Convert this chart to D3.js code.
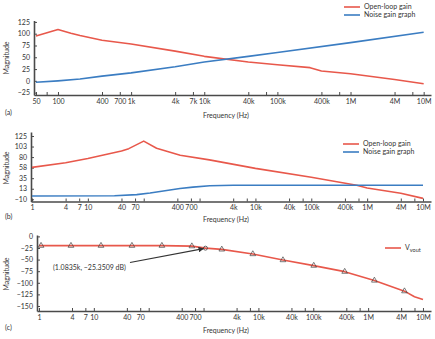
<!DOCTYPE html>
<html><head><meta charset="utf-8">
<script src="https://cdn.jsdelivr.net/npm/d3@7"></script>
<style>
html,body{margin:0;padding:0;background:#fff;}
svg{display:block;font-family:Lato,"Open Sans",sans-serif;}
</style></head><body>
<script>
// ---------- data ----------
// Panel (a)
const freqA_open = [50, 100, 150, 200, 400, 1e3, 4e3, 1e4, 4e4, 1e5, 2.8e5, 4e5, 1e6, 4e6, 1e7];
const openLoopA  = [95, 109, 101, 96, 86, 78, 63, 52, 40, 34, 28, 21, 15, 3, -6];
const freqA_noise = [50, 100, 200, 400, 1e3, 4e3, 1e4, 4e4, 1e5, 1e6, 1e7];
const noiseA      = [-3, 0, 4, 10, 17, 30, 40, 52, 60, 81, 103];
const yTicksA = [-25, 0, 25, 50, 75, 100, 125];
const xTicksA = [50, 70, 100, 400, 700, 1e3, 4e3, 7e3, 1e4, 4e4, 7e4, 1e5, 4e5, 7e5, 1e6, 4e6, 7e6, 1e7];
const xLabelsA = {50:"50",100:"100",400:"400",700:"700",1000:"1k",4000:"4k",7000:"7k",10000:"10k",40000:"40k",100000:"100k",400000:"400k",1000000:"1M",4000000:"4M",10000000:"10M"};

// Panel (b)
const freqB_open = [1, 4, 10, 40, 54, 100, 170, 450, 1500, 1e4, 1e5, 6.5e5, 1e6, 4e6, 1e7];
const openLoopB  = [58, 68, 77, 93, 98, 114, 99, 84, 74, 56, 37, 20, 14, 3, -8];
const freqB_noise = [1, 30, 75, 130, 445, 760, 1520, 4000, 1e7];
const noiseB      = [-3, -2.5, 0, 3.5, 13, 16, 19, 20, 20];
const yTicksB = [-10, 12.5, 35, 57.5, 80, 102.5, 125];
const xTicksBC = [1, 4, 7, 10, 40, 70, 100, 400, 700, 1e3, 4e3, 7e3, 1e4, 4e4, 7e4, 1e5, 4e5, 7e5, 1e6, 4e6, 7e6, 1e7];
const xLabelsBC = {1:"1",4:"4",7:"7",10:"10",40:"40",70:"70",400:"400",700:"700",4000:"4k",10000:"10k",40000:"40k",100000:"100k",400000:"400k",1000000:"1M",4000000:"4M",10000000:"10M"};

// Panel (c)
const freqC = [1, 1.09, 3.83, 13.5, 49.5, 174, 612, 1083.5, 2150, 7900, 28000, 102000, 374000, 1.3e6, 4.6e6, 7e6, 1e7];
const vout  = [-20, -20, -20, -20, -20, -20, -21, -25.35, -28, -38, -51, -63, -76, -95, -118, -130, -136];
const markerFreqC = [1.09, 3.83, 13.5, 49.5, 174, 612, 2150, 7900, 28000, 102000, 374000, 1.3e6, 4.6e6];
const markerValC  = [-20, -20, -20, -20, -20, -21, -28, -38, -51, -63, -76, -95, -118];
const tipFreq = 1083.5, tipVal = -25.3509;
const yTicksC = [-150, -125, -100, -75, -50, -25, 0];

const RED = "#e8584b", BLUE = "#3b7dc2", AX = "#4a4a4a", TXT = "#333";

const W = 435, H = 339;
const svg = d3.select("body").append("svg").attr("width", W).attr("height", H);

function panel(o) {
  const x = d3.scaleLog().domain(o.xDomain).range(o.xRange);
  const y = d3.scaleLinear().domain(o.yDomain).range(o.yRange);
  const g = svg.append("g");

  const xa = g.append("g").attr("transform", `translate(0,${o.yRange[0]})`)
    .call(d3.axisBottom(x).tickValues(o.xTicks).tickSizeInner(-3).tickSizeOuter(0).tickPadding(4)
      .tickFormat(d => o.xLabels[d] || ""));
  const ya = g.append("g").attr("transform", `translate(${o.xRange[0]},0)`)
    .call(d3.axisLeft(y).tickValues(o.yTicks).tickSizeInner(-3).tickSizeOuter(0).tickPadding(4)
      .tickFormat(d => d3.format(".0f")(d).replace("-", "\u2212")));
  [xa, ya].forEach(a => {
    a.select(".domain").attr("stroke", AX).attr("stroke-width", 1.6);
    a.selectAll(".tick line").attr("stroke", AX).attr("stroke-width", 1);
    a.selectAll("text").attr("fill", TXT).style("font-size", "7px").style("font-family", "Lato, 'Open Sans', sans-serif");
  });

  o.series.forEach(s => {
    const line = d3.line().x((d, i) => x(s.f[i])).y(d => y(d));
    g.append("path").datum(s.v).attr("d", line).attr("fill", "none")
      .attr("stroke", s.color).attr("stroke-width", 1.6).attr("stroke-linejoin", "round");
  });

  g.append("text").attr("x", 226).attr("y", o.xTitleY).attr("text-anchor", "middle")
    .attr("fill", TXT).style("font-size", "7px").text("Frequency (Hz)");
  g.append("text").attr("x", 5).attr("y", o.xTitleY - 3).attr("fill", TXT)
    .style("font-size", "7px").text(o.tag);
  g.append("text").attr("transform", `translate(9,${o.yTitleY}) rotate(-90)`).attr("text-anchor", "middle")
    .attr("fill", TXT).style("font-size", "7px").text("Magnitude");
  return {x, y, g};
}

function legend(items, x0, y0, dy) {
  items.forEach((it, i) => {
    const yy = y0 + i * dy;
    svg.append("line").attr("x1", x0).attr("x2", x0 + 16).attr("y1", yy).attr("y2", yy)
      .attr("stroke", it.color).attr("stroke-width", 1.6);
    const t = svg.append("text").attr("x", x0 + 20).attr("y", yy).attr("dy", "0.33em")
      .attr("fill", TXT).style("font-size", "7px");
    if (it.sub) {
      t.append("tspan").text(it.label);
      t.append("tspan").attr("dy", "2").style("font-size", "5.5px").text(it.sub);
    } else t.text(it.label);
  });
}

panel({
  xDomain: [47, 12.6e6], xRange: [34, 431],
  yDomain: [-30, 128], yRange: [95, 20.5],
  xTicks: xTicksA, xLabels: xLabelsA, yTicks: yTicksA,
  series: [{f: freqA_open, v: openLoopA, color: RED}, {f: freqA_noise, v: noiseA, color: BLUE}],
  xTitleY: 118, tag: "(a)", yTitleY: 58
});
legend([{label: "Open-loop gain", color: RED}, {label: "Noise gain graph", color: BLUE}], 344, 7, 8);

panel({
  xDomain: [0.96, 13.9e6], xRange: [31, 431],
  yDomain: [-14.7, 133.5], yRange: [201.5, 132],
  xTicks: xTicksBC, xLabels: xLabelsBC, yTicks: yTicksB,
  series: [{f: freqB_open, v: openLoopB, color: RED}, {f: freqB_noise, v: noiseB, color: BLUE}],
  xTitleY: 222, tag: "(b)", yTitleY: 168
});
legend([{label: "Open-loop gain", color: RED}, {label: "Noise gain graph", color: BLUE}], 343, 144, 8);

const pc = panel({
  xDomain: [0.92, 14e6], xRange: [37, 431],
  yDomain: [-160.8, 3], yRange: [311, 235],
  xTicks: xTicksBC, xLabels: xLabelsBC, yTicks: yTicksC,
  series: [{f: freqC, v: vout, color: RED}],
  xTitleY: 333, tag: "(c)", yTitleY: 274
});
legend([{label: "V", sub: "vout", color: RED}], 385, 248, 8);

const tri = d3.symbol().type(d3.symbolTriangle).size(14);
pc.g.selectAll(".mk").data(markerValC).enter().append("path")
  .attr("transform", (d, i) => `translate(${pc.x(markerFreqC[i])},${pc.y(d)})`)
  .attr("d", tri).attr("fill", "none").attr("stroke", "#444").attr("stroke-width", 0.7);
pc.g.append("circle").attr("cx", pc.x(tipFreq)).attr("cy", pc.y(tipVal)).attr("r", 2)
  .attr("fill", "none").attr("stroke", "#444").attr("stroke-width", 0.8);

svg.append("defs").append("marker").attr("id", "ah").attr("viewBox", "0 0 10 10")
  .attr("refX", 9).attr("refY", 5).attr("markerWidth", 5).attr("markerHeight", 5).attr("orient", "auto")
  .append("path").attr("d", "M0,0L10,5L0,10z").attr("fill", "#333");
pc.g.append("text").attr("x", 53).attr("y", 268).attr("dy", "0.33em").attr("fill", TXT)
  .style("font-size", "7px").text("(1.0835k, \u221225.3509 dB)");
pc.g.append("line").attr("x1", 130).attr("y1", 262.5)
  .attr("x2", pc.x(tipFreq) - 2).attr("y2", pc.y(tipVal) + 0.5)
  .attr("stroke", "#333").attr("stroke-width", 1.1).attr("marker-end", "url(#ah)");
</script>
</body></html>
